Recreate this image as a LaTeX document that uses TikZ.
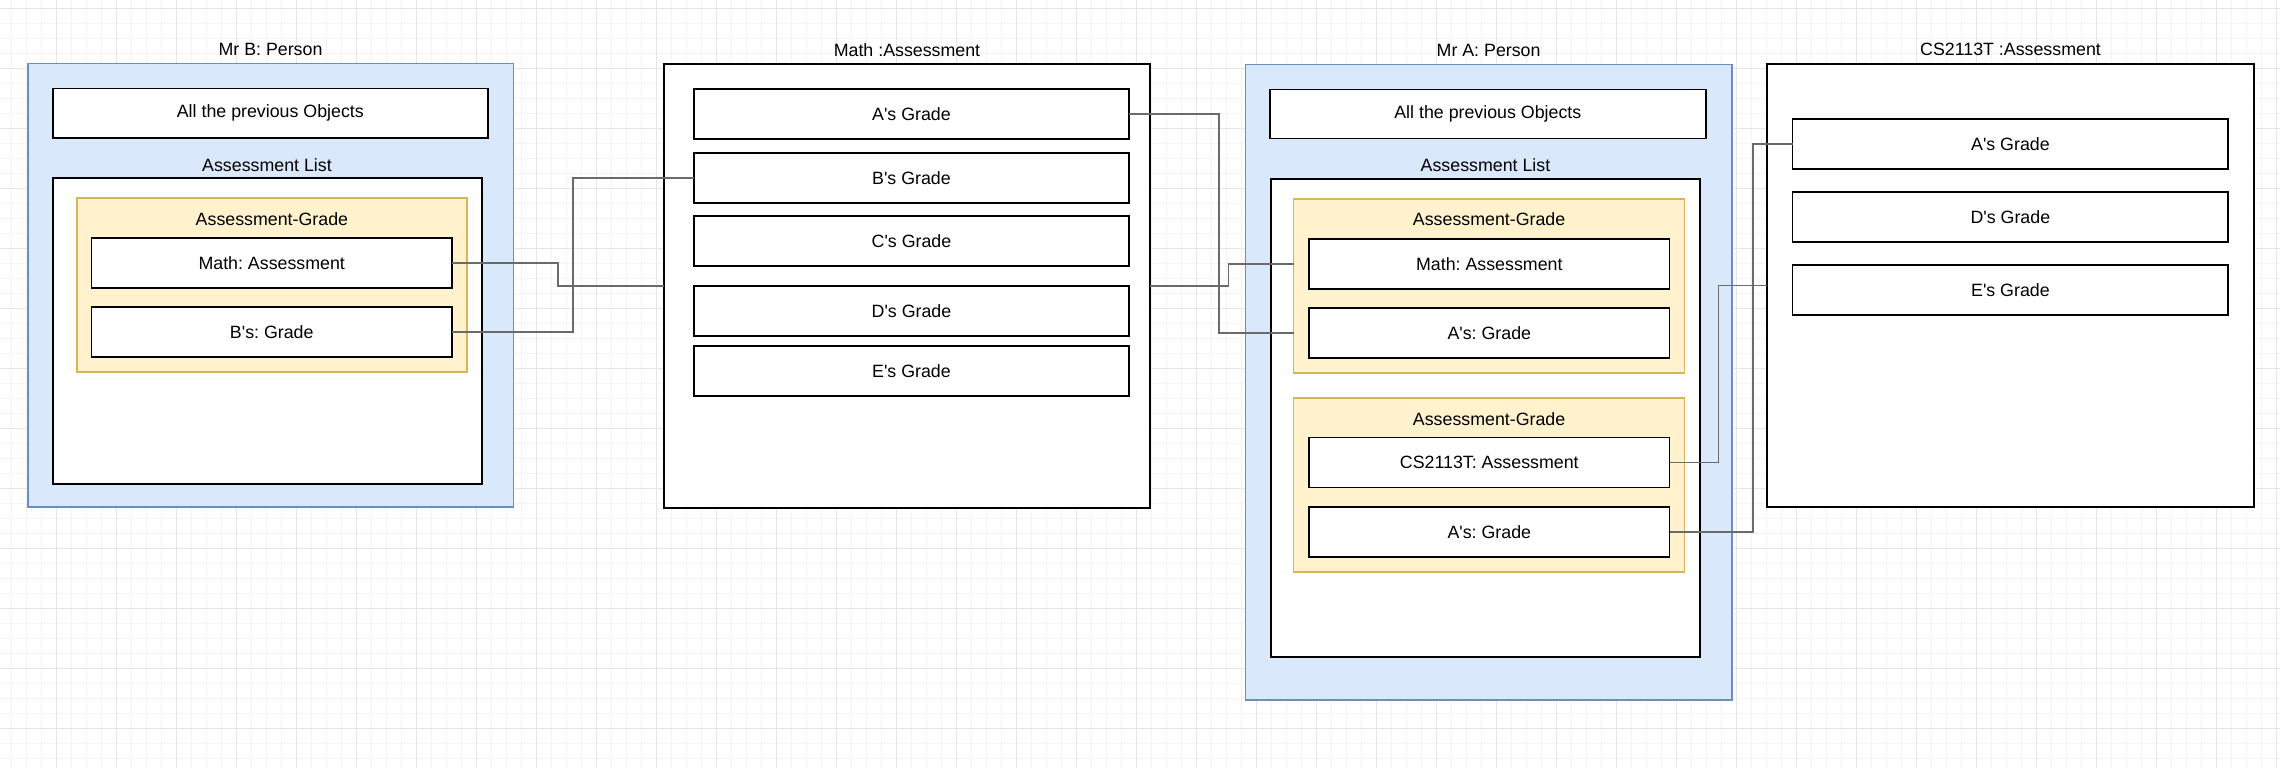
\documentclass[tikz,border=0pt]{standalone}
\usepackage{fontspec}
\setmainfont{Liberation Sans}
\definecolor{bluefill}{HTML}{DAE8FC}
\definecolor{blueline}{HTML}{6C8EBF}
\definecolor{yelfill}{HTML}{FFF2CC}
\definecolor{yelline}{HTML}{D6B656}
\definecolor{connc}{HTML}{6A6A6A}
\definecolor{gridminor}{HTML}{F4F4F4}
\definecolor{gridmajor}{HTML}{E6E6E6}
\newcommand{\dfont}{\fontsize{17.8}{21}\selectfont\frenchspacing}
\newcommand{\ap}{\textquotesingle}
\begin{document}
\begin{tikzpicture}[x=1pt,y=-1pt,
  base/.style={inner sep=0pt, outer sep=0pt, font=\dfont, align=center},
  obj/.style={base, draw=black, line width=1.7pt, fill=white},
  person/.style={base, draw=blueline, fill=bluefill, line width=1.7pt},
  agbox/.style={base, draw=yelline, fill=yelfill, line width=1.7pt},
  lbl/.style={inner sep=0pt, outer sep=0pt, font=\dfont},
  conn/.style={draw=connc, line width=1.4pt}]
\useasboundingbox (0,0) rectangle (2280,768);
\fill[white] (0,0) rectangle (2280,768);
% grid
\foreach \gx in {11.7,26.7,...,2280}{\draw[gridminor,line width=1pt] (\gx,0) -- (\gx,768);}
\foreach \gy in {8.3,23.3,...,768}{\draw[gridminor,line width=1pt] (0,\gy) -- (2280,\gy);}
\foreach \gx in {56.7,116.7,...,2280}{\draw[gridmajor,line width=1pt] (\gx,0) -- (\gx,768);}
\foreach \gy in {8.3,68.3,...,768}{\draw[gridmajor,line width=1pt] (0,\gy) -- (2280,\gy);}

% ---------- Mr B ----------
\node[person, minimum width=485.7pt, minimum height=443.5pt] (pB) at (270.55,285.25) {};
\node[lbl] (tB) at (270.5,49.5) {Mr B: Person};
\node[obj, minimum width=435.3pt, minimum height=49.5pt] (allB) at (270.35,113.25) {All the previous Objects};
\node[lbl] (lB) at (267,165) {Assessment List};
\node[obj, minimum width=429.3pt, minimum height=306pt] (listB) at (267.35,331) {};
\node[agbox, minimum width=390.2pt, minimum height=174pt] (yB) at (271.9,285) {};
\node[lbl] (ytB) at (271.9,219) {Assessment-Grade};
\node[obj, minimum width=360.5pt, minimum height=50pt] (mB) at (271.75,263) {Math: Assessment};
\node[obj, minimum width=360.5pt, minimum height=50pt] (gB) at (271.75,332) {B\ap s: Grade};

% ---------- Math :Assessment ----------
\node[obj, minimum width=486pt, minimum height=444pt] (mathbox) at (907,286) {};
\node[lbl] (tM) at (907,50.5) {Math :Assessment};
\node[obj, minimum width=435pt, minimum height=50pt] (mAg) at (911.5,114) {A\ap s Grade};
\node[obj, minimum width=435pt, minimum height=50pt] (mBg) at (911.5,178) {B\ap s Grade};
\node[obj, minimum width=435pt, minimum height=50pt] (mCg) at (911.5,241) {C\ap s Grade};
\node[obj, minimum width=435pt, minimum height=50pt] (mDg) at (911.5,311) {D\ap s Grade};
\node[obj, minimum width=435pt, minimum height=50pt] (mEg) at (911.5,371) {E\ap s Grade};

% ---------- Mr A ----------
\node[person, minimum width=486.3pt, minimum height=635.5pt] (pA) at (1488.65,382.25) {};
\node[lbl] (tA) at (1488.6,50) {Mr A: Person};
\node[obj, minimum width=435.7pt, minimum height=49pt] (allA) at (1487.85,114) {All the previous Objects};
\node[lbl] (lA) at (1485.5,165) {Assessment List};
\node[obj, minimum width=429pt, minimum height=478pt] (listA) at (1485.5,418) {};
\node[agbox, minimum width=391pt, minimum height=174.3pt] (yA1) at (1489.1,285.85) {};
\node[lbl] (ytA1) at (1489.1,219) {Assessment-Grade};
\node[obj, minimum width=360.6pt, minimum height=50pt] (mA) at (1489.3,264) {Math: Assessment};
\node[obj, minimum width=360.6pt, minimum height=50pt] (gA1) at (1489.3,333) {A\ap s: Grade};
\node[agbox, minimum width=391pt, minimum height=174pt] (yA2) at (1489.1,485) {};
\node[lbl] (ytA2) at (1489.1,419) {Assessment-Grade};
\node[obj, minimum width=360.6pt, minimum height=50pt] (csA) at (1489.3,462.6) {CS2113T: Assessment};
\node[obj, minimum width=360.6pt, minimum height=50pt] (gA2) at (1489.3,532) {A\ap s: Grade};

% ---------- CS2113T :Assessment ----------
\node[obj, minimum width=487pt, minimum height=443pt] (csbox) at (2010.5,285.5) {};
\node[lbl] (tC) at (2010.5,49.5) {CS2113T :Assessment};
\node[obj, minimum width=435.8pt, minimum height=50pt] (cAg) at (2010.4,144) {A\ap s Grade};
\node[obj, minimum width=435.8pt, minimum height=50pt] (cDg) at (2010.4,217) {D\ap s Grade};
\node[obj, minimum width=435.8pt, minimum height=50pt] (cEg) at (2010.4,290) {E\ap s Grade};

% ---------- connectors ----------
\draw[conn] (mB.east) -- ++(106,0) |- (mathbox.west);
\draw[conn] (gB.east) -- ++(121,0) |- (mBg.west);
\draw[conn] (mAg.east) -- ++(90,0) |- (yA1.west |- gA1.center);
\draw[conn] (mathbox.east) -- ++(78.6,0) |- (yA1.west |- mA.center);
\draw[conn] (csA.east) -- ++(49,0) |- (csbox.west);
\draw[conn] (gA2.east) -- ++(83.4,0) |- (cAg.west);
\end{tikzpicture}
\end{document}
